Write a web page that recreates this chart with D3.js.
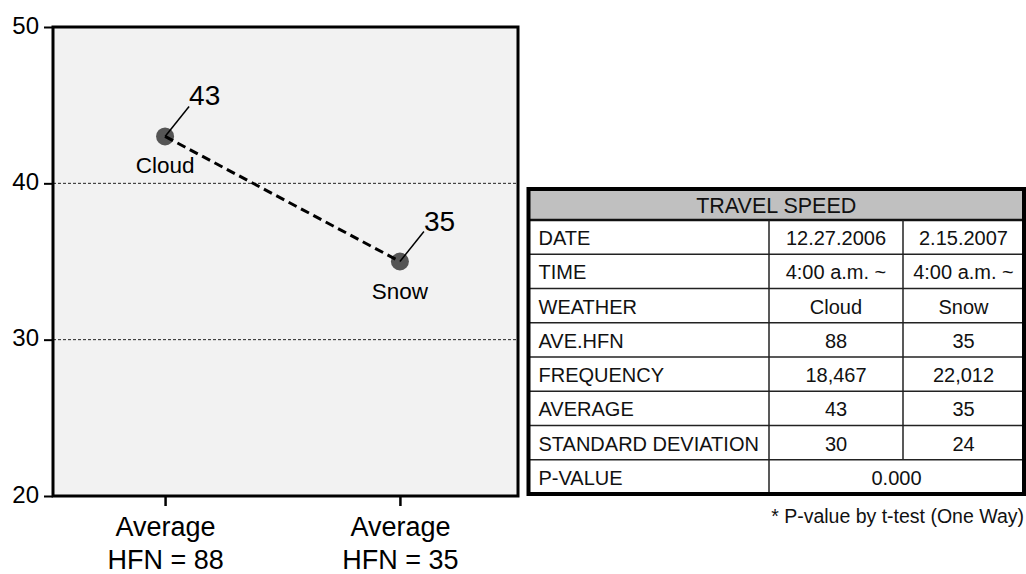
<!DOCTYPE html>
<html>
<head>
<meta charset="utf-8">
<script src="https://cdn.jsdelivr.net/npm/d3@7"></script>
<style>
  html, body { margin: 0; padding: 0; background: #fff; }
  svg { display: block; font-family: "Liberation Sans", Arial, sans-serif; }
</style>
</head>
<body>
<svg id="chart" width="1026" height="574"></svg>
<script>
// ---------- data ----------
const weather = ["Cloud", "Snow"];
const averages = [43, 35];
const xLabelLine1 = ["Average", "Average"];
const xLabelLine2 = ["HFN = 88", "HFN = 35"];
const yTicks = [20, 30, 40, 50];
const gridValues = [30, 40];

const tableTitle = "TRAVEL SPEED";
const rowLabels = ["DATE", "TIME", "WEATHER", "AVE.HFN", "FREQUENCY", "AVERAGE", "STANDARD DEVIATION"];
const cloudColumn = ["12.27.2006", "4:00 a.m. ~", "Cloud", "88", "18,467", "43", "30"];
const snowColumn = ["2.15.2007", "4:00 a.m. ~", "Snow", "35", "22,012", "35", "24"];
const pRowLabel = "P-VALUE";
const pValue = "0.000";
const footnote = "* P-value by t-test (One Way)";

// ---------- chart ----------
const svg = d3.select("#chart");
const plot = { left: 53, right: 518, top: 27, bottom: 496 };

const y = d3.scaleLinear().domain([20, 50]).range([plot.bottom, plot.top]);
const x = d3.scalePoint().domain(weather).range([50, 515]).padding(0.49);

// background
svg.append("rect")
  .attr("x", plot.left).attr("y", plot.top)
  .attr("width", plot.right - plot.left).attr("height", plot.bottom - plot.top)
  .attr("fill", "#f2f2f2");

// gridlines
svg.append("g").selectAll("line").data(gridValues).join("line")
  .attr("x1", plot.left).attr("x2", plot.right)
  .attr("y1", d => y(d)).attr("y2", d => y(d))
  .attr("stroke", "#222").attr("stroke-width", 1).attr("stroke-dasharray", "3,2");

// frame
svg.append("rect")
  .attr("x", plot.left).attr("y", plot.top)
  .attr("width", plot.right - plot.left).attr("height", plot.bottom - plot.top)
  .attr("fill", "none").attr("stroke", "#000").attr("stroke-width", 3);

// y axis
const yAxis = svg.append("g")
  .attr("transform", `translate(${plot.left},0)`)
  .call(d3.axisLeft(y).tickValues(yTicks).tickSize(9).tickPadding(5).tickFormat(d3.format("d")));
yAxis.select(".domain").remove();
yAxis.selectAll(".tick line").attr("stroke", "#000").attr("stroke-width", 2);
yAxis.selectAll(".tick text")
  .attr("font-size", 24).attr("fill", "#000")
  .attr("font-family", "Liberation Sans, Arial, sans-serif")
  .attr("dy", "0.25em");

// x axis
const xAxis = svg.append("g")
  .attr("transform", `translate(0,${plot.bottom})`)
  .call(d3.axisBottom(x).tickSize(10).tickFormat(""));
xAxis.select(".domain").remove();
xAxis.selectAll(".tick line").attr("stroke", "#000").attr("stroke-width", 2.5);
xAxis.selectAll(".tick").each(function(d, i) {
  const t = d3.select(this).append("text")
    .attr("text-anchor", "middle").attr("fill", "#000")
    .attr("font-size", 27)
    .attr("font-family", "Liberation Sans, Arial, sans-serif");
  t.append("tspan").attr("x", 0).attr("y", 40).text(xLabelLine1[i]);
  t.append("tspan").attr("x", 0).attr("y", 73).text(xLabelLine2[i]);
});

// points
const pts = weather.map((w, i) => ({ w, v: averages[i] }));

svg.append("g").selectAll("circle").data(pts).join("circle")
  .attr("cx", d => x(d.w)).attr("cy", d => y(d.v)).attr("r", 9)
  .attr("fill", "#555");

// dashed connecting line
svg.append("path")
  .datum(pts)
  .attr("d", d3.line().x(d => x(d.w)).y(d => y(d.v)))
  .attr("fill", "none").attr("stroke", "#000")
  .attr("stroke-width", 3).attr("stroke-dasharray", "9,5");

// leader lines and value labels
const lab = svg.append("g");
pts.forEach(d => {
  const cx = x(d.w), cy = y(d.v);
  lab.append("line")
    .attr("x1", cx).attr("y1", cy).attr("x2", cx + 24).attr("y2", cy - 30)
    .attr("stroke", "#000").attr("stroke-width", 1.5);
  lab.append("text")
    .attr("x", cx + 24).attr("y", cy - 31)
    .attr("font-size", 28).attr("fill", "#000")
    .text(d.v);
  lab.append("text")
    .attr("x", cx).attr("y", cy + 37)
    .attr("text-anchor", "middle")
    .attr("font-size", 22.5).attr("fill", "#000")
    .text(d.w);
});

// ---------- table ----------
const tbl = { left: 528.5, right: 1024, top: 189, headerBottom: 220, bottom: 494 };
const col1 = 769, col2 = 903;
const allRows = rowLabels.concat([pRowLabel]);
const rowY = d3.scaleBand().domain(d3.range(allRows.length)).range([tbl.headerBottom, tbl.bottom]);

const tg = svg.append("g").attr("font-family", "Liberation Sans, Arial, sans-serif");

// white body + gray header
tg.append("rect").attr("x", tbl.left).attr("y", tbl.top)
  .attr("width", tbl.right - tbl.left).attr("height", tbl.bottom - tbl.top).attr("fill", "#fff");
tg.append("rect").attr("x", tbl.left).attr("y", tbl.top)
  .attr("width", tbl.right - tbl.left).attr("height", tbl.headerBottom - tbl.top).attr("fill", "#c0c0c0");

// horizontal row lines
tg.selectAll("line.row").data(d3.range(1, allRows.length)).join("line")
  .attr("class", "row")
  .attr("x1", tbl.left).attr("x2", tbl.right)
  .attr("y1", i => rowY(i)).attr("y2", i => rowY(i))
  .attr("stroke", "#222").attr("stroke-width", 1.5);

// header bottom line
tg.append("line").attr("x1", tbl.left).attr("x2", tbl.right)
  .attr("y1", tbl.headerBottom).attr("y2", tbl.headerBottom)
  .attr("stroke", "#111").attr("stroke-width", 2.5);

// column lines
tg.append("line").attr("x1", col1).attr("x2", col1)
  .attr("y1", tbl.headerBottom).attr("y2", tbl.bottom)
  .attr("stroke", "#222").attr("stroke-width", 1.5);
tg.append("line").attr("x1", col2).attr("x2", col2)
  .attr("y1", tbl.headerBottom).attr("y2", rowY(allRows.length - 1))
  .attr("stroke", "#222").attr("stroke-width", 1.5);

// outer border
tg.append("rect").attr("x", tbl.left).attr("y", tbl.top)
  .attr("width", tbl.right - tbl.left).attr("height", tbl.bottom - tbl.top)
  .attr("fill", "none").attr("stroke", "#000").attr("stroke-width", 4);

// header text
tg.append("text")
  .attr("x", (tbl.left + tbl.right) / 2).attr("y", (tbl.top + tbl.headerBottom) / 2 + 1)
  .attr("text-anchor", "middle").attr("dominant-baseline", "central")
  .attr("font-size", 21.5).attr("fill", "#111").text(tableTitle);

// row labels
tg.selectAll("text.lab").data(allRows).join("text")
  .attr("class", "lab")
  .attr("x", tbl.left + 10)
  .attr("y", (d, i) => rowY(i) + rowY.bandwidth() / 2 + 1)
  .attr("dominant-baseline", "central")
  .attr("font-size", 20).attr("fill", "#111").text(d => d);

// values
tg.selectAll("text.c1").data(cloudColumn).join("text")
  .attr("class", "c1")
  .attr("x", (col1 + col2) / 2)
  .attr("y", (d, i) => rowY(i) + rowY.bandwidth() / 2 + 1)
  .attr("text-anchor", "middle").attr("dominant-baseline", "central")
  .attr("font-size", 20).attr("fill", "#111").text(d => d);
tg.selectAll("text.c2").data(snowColumn).join("text")
  .attr("class", "c2")
  .attr("x", (col2 + tbl.right) / 2)
  .attr("y", (d, i) => rowY(i) + rowY.bandwidth() / 2 + 1)
  .attr("text-anchor", "middle").attr("dominant-baseline", "central")
  .attr("font-size", 20).attr("fill", "#111").text(d => d);
tg.append("text")
  .attr("x", (col1 + tbl.right) / 2)
  .attr("y", rowY(allRows.length - 1) + rowY.bandwidth() / 2 + 1)
  .attr("text-anchor", "middle").attr("dominant-baseline", "central")
  .attr("font-size", 20).attr("fill", "#111").text(pValue);

// footnote
svg.append("text")
  .attr("x", 1024).attr("y", 523)
  .attr("text-anchor", "end")
  .attr("font-size", 19.5).attr("fill", "#111").text(footnote);
</script>
</body>
</html>
